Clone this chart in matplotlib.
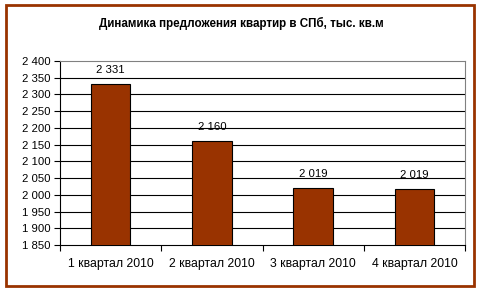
import matplotlib
matplotlib.use("Agg")
import matplotlib.pyplot as plt
from matplotlib.patches import Rectangle
import numpy as np

plt.rcParams['font.family'] = ['Liberation Sans', 'DejaVu Sans']

title = "Динамика предложения квартир в СПб, тыс. кв.м"
categories = ["1 квартал 2010", "2 квартал 2010", "3 квартал 2010", "4 квартал 2010"]
values = [2331, 2160, 2019.4, 2018.6]
yticks = list(range(1850, 2401, 50))

brown = "#993300"

def fmt(v):
    return "{:,}".format(int(round(v))).replace(",", " ")

fig = plt.figure(figsize=(4.82, 2.92), dpi=100)
W, H = 482, 292
# outer frame
fig.patches.append(Rectangle((6 / W, 1 - 286 / H), 468 / W, 281 / H, transform=fig.transFigure,
                             fill=False, edgecolor=brown, linewidth=2))
ax = fig.add_axes([60 / W, 1 - 245 / H, 405 / W, 184 / H])

x = np.arange(len(categories))
ax.bar(x, values, width=0.39, color=brown, edgecolor="black", linewidth=0.8, zorder=3)
ax.set_ylim(1850, 2400)
ax.set_xlim(-0.5, len(categories) - 0.5)
ax.set_yticks(yticks)
ax.set_yticklabels([fmt(t) for t in yticks], fontsize=8.2)
for t in yticks[1:-1]:
    ax.axhline(t, color="black", linewidth=0.8, zorder=1)

ax.set_xticks(np.arange(len(categories) + 1) - 0.5)
ax.set_xticklabels([])
ax.set_xticks(x, minor=True)
ax.set_xticklabels(categories, minor=True, fontsize=8.8)
ax.tick_params(axis="x", which="minor", length=0, pad=9)
ax.tick_params(axis="x", which="major", length=4, direction="out")
ax.tick_params(axis="y", length=4, direction="out", pad=3)

for s in ["top", "right"]:
    ax.spines[s].set_color("#808080")
    ax.spines[s].set_linewidth(0.8)
ax.spines["left"].set_linewidth(0.8)
ax.spines["bottom"].set_linewidth(0.8)

for xi, v in zip(x, values):
    ax.annotate(fmt(v), (xi, v), xytext=(0, 6.5), textcoords="offset points",
                ha="center", va="bottom", fontsize=8.2)

fig.text(0.5, 1 - 23 / H, title, ha="center", va="center", fontsize=8.4, fontweight="bold")

fig.savefig("out.png", dpi=100)
